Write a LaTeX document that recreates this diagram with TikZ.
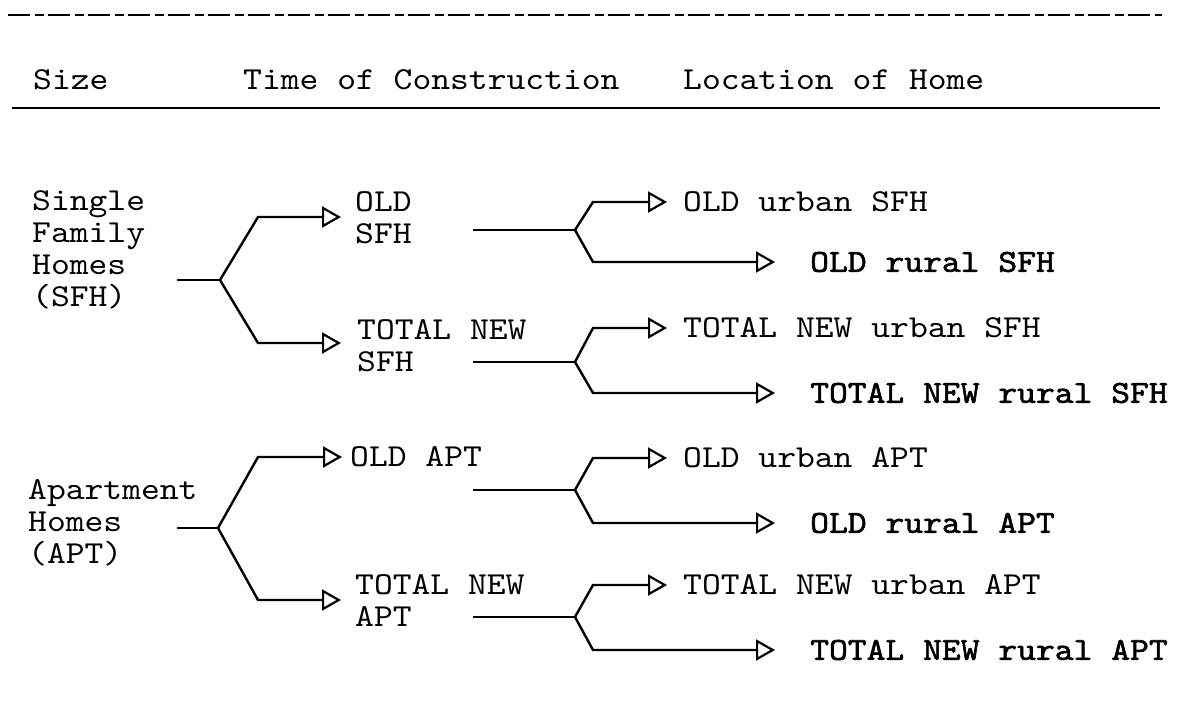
\documentclass[tikz,border=0pt]{standalone}
\usepackage{fontspec}
\setmainfont{lmmono10-regular.otf}[FakeStretch=1.12,
  BoldFont=lmmono10-regular.otf, BoldFeatures={FakeBold=1.8}]
\usetikzlibrary{arrows.meta, positioning}

\tikzset{
  txt/.style={anchor=west, inner sep=0pt, align=left, font=\fontsize{32}{32}\selectfont},
  boldtxt/.style={txt, font=\fontsize{32}{32}\selectfont\bfseries},
  branch/.style={line width=2.4pt, line join=miter},
  tip/.style={branch, -{Triangle[open, length=19pt, width=21pt, line width=2.2pt]}},
}

\begin{document}
\begin{tikzpicture}[x=1pt, y=-1pt]
  \useasboundingbox (0,0) rectangle (1177,711);

  % Header
  \draw[line width=1.6pt, dash pattern=on 22pt off 5pt on 9pt off 4pt] (8,15) -- (1162,15);
  \node[txt] (hsize) at (33,80) {Size};
  \node[txt] (htime) at (243,80) {Time of Construction};
  \node[txt] (hloc) at (683,80) {Location of Home};
  \draw[line width=2.2pt] (12,108) -- (1160,108);

  % Size
  \node[txt] (sfh) at (32,250) {Single\\Family\\Homes\\(SFH)};
  \node[txt] (apt) at (28,523) {Apartment\\Homes\\(APT)};

  % Time of construction
  \node[txt] (oldsfh) at (355,218) {OLD\\SFH};
  \node[txt] (newsfh) at (357,346) {TOTAL NEW\\SFH};
  \node[txt] (oldapt) at (350,457) {OLD APT};
  \node[txt] (newapt) at (355,601) {TOTAL NEW\\APT};

  % Location of home
  \node[txt] (ousfh) at (683,202) {OLD urban SFH};
  \node[boldtxt] (orsfh) at (810,262) {OLD rural SFH};
  \node[txt] (nusfh) at (683,328) {TOTAL NEW urban SFH};
  \node[boldtxt] (nrsfh) at (810,393) {TOTAL NEW rural SFH};
  \node[txt] (ouapt) at (683,458) {OLD urban APT};
  \node[boldtxt] (orapt) at (810,523) {OLD rural APT};
  \node[txt] (nuapt) at (683,585) {TOTAL NEW urban APT};
  \node[boldtxt] (nrapt) at (810,650) {TOTAL NEW rural APT};

  % First split: size -> time
  \coordinate (sfh-stem) at (177,280);
  \coordinate (sfh-fork) at (220,280);
  \coordinate (apt-stem) at (177,528);
  \coordinate (apt-fork) at (218,528);
  \draw[branch] (sfh-stem) -- (sfh-fork);
  \draw[tip, shorten >=14pt] (sfh-fork) -- (258,217) -- (oldsfh.west |- 0,217);
  \draw[tip, shorten >=16pt] (sfh-fork) -- (258,343) -- (newsfh.west |- 0,343);
  \draw[branch] (apt-stem) -- (apt-fork);
  \draw[tip, shorten >=8pt] (apt-fork) -- (258,457) -- (oldapt.west);
  \draw[tip, shorten >=14pt] (apt-fork) -- (258,600) -- (newapt.west |- 0,600);

  % Second split: time -> location
  \foreach \m/\y/\u/\r in {oldsfh/230/ousfh/orsfh, newsfh/362/nusfh/nrsfh,
                           oldapt/490/ouapt/orapt, newapt/617/nuapt/nrapt}{
    \coordinate (\m-stem) at (473,\y);
    \coordinate (\m-fork) at (575,\y);
    \draw[branch] (\m-stem) -- (\m-fork);
    \draw[tip, shorten >=16pt] (\m-fork) -- ([xshift=18pt]\m-fork |- \u.west) -- (\u.west);
    \draw[tip, shorten >=35pt] (\m-fork) -- ([xshift=18pt]\m-fork |- \r.west) -- (\r.west);
  }
\end{tikzpicture}
\end{document}
